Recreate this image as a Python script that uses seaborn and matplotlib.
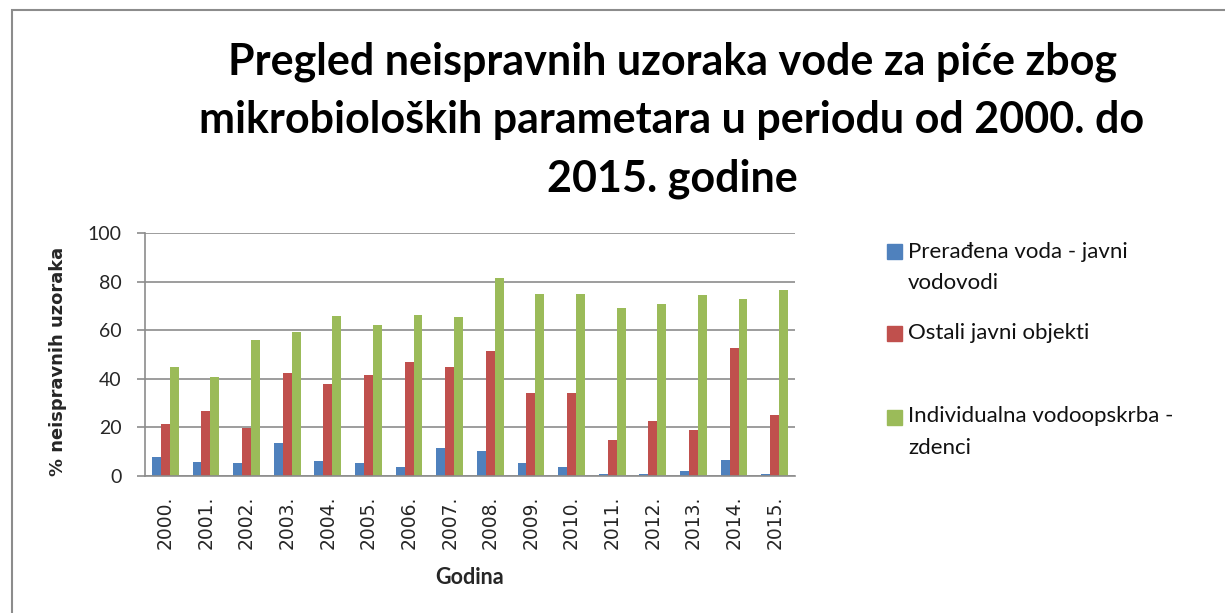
import matplotlib
matplotlib.use("Agg")
import matplotlib.pyplot as plt
import matplotlib.patches as mpatches
import seaborn as sns
import pandas as pd

years = ["2000.", "2001.", "2002.", "2003.", "2004.", "2005.", "2006.", "2007.",
         "2008.", "2009.", "2010.", "2011.", "2012.", "2013.", "2014.", "2015."]
series_names = ["Prerađena voda - javni\nvodovodi",
                "Ostali javni objekti",
                "Individualna vodoopskrba -\nzdenci"]
javni_vodovodi = [7.7, 5.8, 5.2, 13.4, 6.3, 5.2, 3.7, 11.4,
                  10.3, 5.2, 3.7, 0.7, 0.7, 2.2, 6.7, 0.7]
ostali_objekti = [21.5, 26.6, 19.8, 42.2, 37.7, 41.4, 46.9, 44.9,
                  51.6, 34.3, 34.3, 15.0, 22.5, 18.9, 52.5, 25.1]
zdenci = [44.9, 40.9, 56.1, 59.1, 65.7, 62.1, 66.3, 65.3,
          81.5, 74.9, 74.9, 69.3, 70.9, 74.3, 72.8, 76.4]
colors = ["#4F81BD", "#C0504D", "#9BBB59"]

frames = []
for name, vals in zip(series_names, [javni_vodovodi, ostali_objekti, zdenci]):
    frames.append(pd.DataFrame({"Godina": years, "Vrijednost": vals, "Serija": name}))
df = pd.concat(frames, ignore_index=True)

sns.set_theme(style="white")
plt.rcParams["font.family"] = ["Lato", "DejaVu Sans"]

W, H = 1225, 613
fig = plt.figure(figsize=(W / 100, H / 100), dpi=100)
ax = fig.add_axes([145 / W, 1 - 476 / H, 650 / W, 243 / H])

sns.barplot(data=df, x="Godina", y="Vrijednost", hue="Serija", order=years,
            hue_order=series_names, palette=colors, width=0.66, gap=0,
            saturation=1, ax=ax, legend=False, edgecolor="none")

ax.set_ylim(0, 100)
ax.set_xlim(-0.5, len(years) - 0.5)
ax.set_yticks([0, 20, 40, 60, 80, 100])
ax.yaxis.grid(True, color="#8c8c8c", linewidth=1.2)
ax.set_axisbelow(True)
for s in ["top", "right"]:
    ax.spines[s].set_visible(False)
for s in ["left", "bottom"]:
    ax.spines[s].set_color("#8c8c8c")
    ax.spines[s].set_linewidth(1.2)
ax.tick_params(axis="y", left=True, length=6, width=1.2, color="#8c8c8c",
               labelsize=14, pad=11)
ax.tick_params(axis="x", bottom=False, labelsize=13.5, pad=8)
for lbl in ax.get_xticklabels():
    lbl.set_rotation(90)
    lbl.set_fontfamily("DejaVu Sans")
ax.set_xlabel("Godina", fontsize=15.5, fontweight="bold")
ax.xaxis.set_label_coords(0.5, (476 - 578) / 243)
ax.xaxis.label.set_va("center")
ax.set_ylabel("% neispravnih uzoraka", fontsize=12.9, fontweight="bold",
              fontfamily="DejaVu Sans")
ax.yaxis.set_label_coords((58 - 145) / 650, (476 - 361) / 243)
ax.yaxis.label.set_va("center")

fig.text(672 / W, 1 - 120 / H,
         "Pregled neispravnih uzoraka vode za piće zbog\n"
         "mikrobioloških parametara u periodu od 2000. do\n"
         "2015. godine",
         ha="center", va="center", fontsize=31, fontweight="bold",
         linespacing=1.55, color="black")

# legend entries: colour square plus label
marker_y = [251, 333, 417]
text_y = [267.5, 333, 432]
for c, name, my, ty in zip(colors, series_names, marker_y, text_y):
    fig.patches.append(mpatches.Rectangle((887 / W, 1 - (my + 7.5) / H), 15 / W, 15 / H,
                                          transform=fig.transFigure, color=c))
    fig.text(908 / W, 1 - ty / H, name, ha="left", va="center", fontsize=16,
             linespacing=1.7, color="#111111")

fig.patches.append(mpatches.Rectangle((12 / W, -0.1), 1.2, 0.1 + 1 - 10 / H,
                                      transform=fig.transFigure, fill=False,
                                      edgecolor="#8c8c8c", linewidth=1.5))

fig.savefig("out.png", dpi=100)
